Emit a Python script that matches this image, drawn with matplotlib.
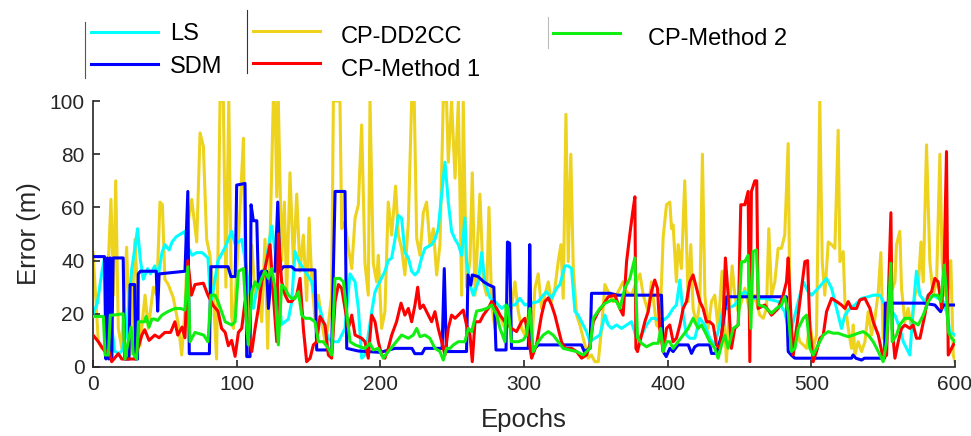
import matplotlib
matplotlib.use("Agg")
import matplotlib.pyplot as plt
from matplotlib.lines import Line2D

plt.rcParams['font.family'] = ['Liberation Sans', 'DejaVu Sans']

# (epoch, error in m)
ls_pts = [(0,20),(3,24),(6,35),(8,41),(10,40),(12,20),(15,6),(18,5),(20,6),(23,12),(25,25),(27,37),(29,44),(31,52),(33,40),
          (35,33),(38,37),(40,35),(43,38),(45,33),(48,43),(50,46),(53,44),(55,47),(58,49),(61,50),(64,51),(66,45),(69,42),
          (72,43),(76,43),(80,41),(82,24),(84,30),(87,40),(90,43),(92,45),(96.5,51),(99,46),(103.5,48),(106,40),(109,28),
          (111.6,22),(115,32),(119.7,37),(124.4,53),(126.7,44),(129,27),(131.3,16),(136,18),(138.3,24.6),(140.6,43.4),
          (143,40),(147.6,36),(152.2,32),(154.5,26),(158,22),(161.5,14.5),(163.8,10.8),(166.1,9.5),(170.8,9.5),(175.4,14.5),
          (178.9,35),(182.4,32),(184.7,22),(187,3.3),(189.3,4.5),(191.6,12),(194,20.8),(196.3,28.3),(198.6,31),(203.2,36),
          (205.5,40),(207.9,41),(210.2,48),(212.5,57),(214.8,56),(217.1,43),(219.5,41),(221.8,36),(224.1,34.6),(226.4,36),
          (228.7,41),(231,44.6),(235.7,46),(238,48),(240.3,52),(242.7,65),(245,77),(247.3,62),(249.6,51),(252,48),
          (254.3,46),(256.6,42),(258.9,56),(260,40),(262.4,31),(264.7,27),(268.2,32),(270.5,43),(272.8,32),(276.3,26),
          (279.8,24.6),(284.4,22),(286.7,23),(290.2,23.3),(293.7,23.3),(297.1,25.8),(300.6,23.3),(305.3,24),(309.9,24.6),
          (313.4,27),(315.7,28.3),(319.2,25.8),(322.7,29.6),(325,31),(328.5,38),(330.8,38),(333.1,37),(335.4,21),
          (337.7,19.5),(341.2,15.8),(343.5,13.3),(345.9,9.5),(349.3,10.8),(352.8,12),(356.3,19.5),(358.6,15.8),(361,14.5),
          (364.4,15.8),(367.9,14.5),(371.4,15.8),(374.9,17),(378.3,10.8),(381.8,12),(385.3,15.8),(388.8,18.3),(391,18.3),
          (395.7,17),(400.3,19),(403.8,22),(406.1,23.3),(408.5,32.7),(410.8,19.5),(413.1,12),(415.4,10.8),(418.9,10.8),
          (422.4,18.3),(425.9,15.8),(429.3,10.8),(432.8,8.3),(435.1,13.3),(438.6,22),(442.1,22),(446.7,23.3),(451.4,27),
          (453.7,28.3),(458.3,25.8),(467.6,25.8),(476.9,24.6),(481.5,20.8),(485,12),(486.2,14.5),(490.9,24.6),(494.4,32),
          (497.8,28.3),(500.2,27),(504.8,29.6),(510.6,33.3),(514.1,29.6),(516.4,24.6),(518.7,19.5),(521,14.5),(523.4,19.5),
          (526.8,22),(530.3,23.3),(535,25.8),(539.6,26.4),(543.1,27),(547.7,27),(550,24.6),(552.4,22),(555.8,20.8),
          (558.2,19.5),(561.6,14.5),(564,9.5),(566.3,7),(568.6,4.5),(570.9,22),(573.2,36),(575.6,27),(579,24.6),(581.4,27),
          (584.8,27),(588.3,25.8),(591.8,24.6),(594.1,20.8),(596.4,13.3),(600,12)]

sdm_pts = [(0,41.5),(8,41.5),(9,3),(10,41),(11,3),(12,41),(13,3),(14,41),(21,41),(22,3),(25,3),(25.8,31),(29,31),(29.5,3),
           (31,3),(31.5,35),(33,36),(44,36),(45,21),(46,35),(55,35.5),(64,36),(66,66),(67,5),(81,5),(82,37.7),(94,37.7),
           (96,34),(99,34),(100,68.4),(105.8,69),(107,3.9),(109.3,3.9),(110,61),(111.6,55),(114,55),(115.1,32),(117.4,36),
           (120.9,36),(122.1,22),(124.4,36),(126.7,36),(128.6,62),(130.2,36),(132.5,37.7),(138.3,37.7),(140.6,36.5),
           (154.5,36.5),(155.7,6.4),(166.1,6.4),(168.5,66),(175.4,66),(176.6,7),(184.7,6),(200,5.5),(210,7),(222,7),
           (224,5),(229,5),(231,7),(243,7),(244.5,37),(246,5.8),(260,5.8),(261,34.6),(263,30.8),(264,34.6),(268,34),
           (272,32),(275,31),(279,30),(280.5,6.4),(287.5,6.4),(288.5,47),(290,46.5),(291.3,7),(303,7),(304,46),(305,5.8),
           (310,8.3),(340,8.3),(342,5.8),(346,7),(347,27.7),(360,27.7),(365,27),(395.7,27),(396.9,5.8),(399,3.9),
           (401.5,7),(403.8,5.8),(407.3,8.3),(414.3,8.3),(416.6,5.1),(418.9,7.6),(421.2,8.3),(429.3,8.3),(430.5,5.1),
           (434,5.1),(437.5,12),(441,26.4),(482.7,26.4),(483.9,5.8),(486,4.5),(488.5,3.3),(528,3.3),(529,4.5),(531,3.3),
           (535,2.6),(537,3.3),(551,3.3),(551.5,24),(578,24),(586,23.3),(588,22),(590,20.8),(592,23.3),(600,23.3)]

dd2cc_pts = [(0,43),(3.7,9.5),(6,7),(8.4,7),(10.7,40),(12.5,63),(14.2,27),(15.8,70),(17.6,14.5),(20,7),(23.4,45),(25.8,4.5),
             (29.2,48),(31.6,21),(32.7,8),(36.2,27),(38.5,14.5),(42,30),(44.3,27),(46.6,62),(48.3,61),(50,33),(52.4,31),
             (55.9,26),(59.4,16),(61.7,4.5),(64,21),(66.4,55),(68.7,63),(72.2,47),(74.5,88),(76.8,83),(79.1,48),(81.4,42),
             (83.8,27),(86,3),(88.4,100),(90.7,100),(92.5,30),(94.5,100),(96.5,19),(97.7,14.5),(101.2,47),(104.7,86),
             (105.8,40),(108.1,14.5),(110.5,46),(112.8,27),(115.1,33),(117.4,17),(119.7,48),(121.6,7),(123.2,47),
             (125.5,100),(126.7,100),(127.9,64),(129,100),(131.3,40),(133.2,62),(134.8,27),(137.1,73),(139.5,39),
             (141.8,65),(144.1,36),(146.4,49.6),(148.7,25),(150.4,56),(152.2,33),(154.5,18.3),(156.9,27),(159.2,17),
             (161.5,9.5),(163.8,16),(166.1,27),(167.3,100),(169.6,100),(171.9,100),(173.1,52),(175.4,54.6),(177.7,45),
             (180.1,37),(182.4,56),(184.7,61),(187,91),(189.3,39),(191.6,27),(192.8,100),(195.1,39),(197.4,32),(198.6,42),
             (200.9,14.5),(203.2,20.8),(205.5,62),(207.9,49.6),(210.6,68),(212.5,49.6),(214.8,44.6),(217.1,34.6),
             (219.5,54.6),(221.8,100),(223.6,100),(225.3,48.4),(227.6,42),(229.9,58),(232.2,62),(234.5,46),(236.9,52),
             (239.2,34.6),(241.5,46),(243.8,100),(246.1,100),(247.3,77),(249.6,100),(252,71),(254.3,100),(256.6,27),
             (257.7,100),(260,30),(262.4,40),(264,73),(265.9,27),(269.3,65),(271.7,32),(274,27),(275.6,60),(277.5,23.3),
             (279.8,14.5),(282.1,20.8),(286.7,14.5),(289,19.5),(291.3,22),(293.7,32),(296,21),(298.3,14.5),(300.6,12),
             (302.9,19.5),(305.3,7),(307.6,29.6),(309.9,35),(312.2,22),(314.5,27),(316.9,32),(319.2,24.6),(321.5,29.6),
             (323.8,39.6),(325.7,46),(327.3,25.8),(329.2,95),(330.8,39.6),(332.6,80),(334.3,37),(336.6,19.5),(338.9,15.8),
             (342.4,8.3),(344.7,3.3),(347,4.5),(349.3,2),(351.7,2),(354,14.5),(356.3,31),(358.6,28.3),(362.1,24.6),
             (365.6,28.3),(369,32),(371.4,28.3),(374.9,27),(378.3,32),(380.7,35),(383,27),(386.4,20.8),(388.7,32),
             (392.2,15.8),(394.5,14.5),(396.9,49),(399.2,61),(401.5,62),(402.7,52),(403.8,53.4),(406.1,32),(407.3,46),
             (409.6,37),(411.9,70),(414.3,24.6),(416.1,46),(417.7,22),(420.1,15.8),(422.4,24.6),(424.2,80),(425.9,27),
             (428.2,14.5),(430.5,24.6),(432.8,27),(435.1,14.5),(437.9,36),(440.9,2),(443.3,24.6),(444.9,38),(446.7,27),
             (449.1,20.8),(451.4,24.6),(453.7,29.6),(457.2,20.8),(460.7,27),(464.1,19.5),(466.5,18.3),(468.8,22),
             (470.4,52),(472.3,27),(474.6,32),(476.9,44.6),(479.2,44.6),(481.5,49.6),(483.9,84),(485.1,20.8),(487.4,4.5),
             (489.7,14.5),(492,9.5),(494.4,8.3),(496.7,7),(499,17),(501.3,7),(503.6,12),(505.9,100),(507.6,39.6),
             (509.4,27),(511.8,47),(514.1,46),(516.4,44.6),(518.7,89),(519.9,39.6),(522.2,43.4),(523.4,24.6),(525.7,14.5),
             (528,7),(529.2,15.8),(530.3,4.5),(532.6,9.5),(535,5.8),(537.3,9.5),(539.6,20.8),(541.9,12),(544.3,18.3),
             (546.6,28.3),(548.4,43),(550,10.8),(552.4,14.5),(554.7,27),(558.2,32),(559.3,46),(561.6,51),(562.8,29.6),
             (565.1,17),(567.4,22),(569.8,14.5),(572.1,27),(574.4,29.6),(576.3,47),(577.9,32),(580.2,83.5),(582.5,39.6),
             (584.8,27),(587.2,32),(589.5,80),(591.1,39.6),(592.9,27),(595.3,29.6),(597.1,40),(598.8,4.5),(600,2)]

m1_pts = [(0,12),(3.7,9.5),(8,6),(11,6),(13,2),(17.6,5),(20,3),(23,3),(29,3),(34,12),(36,14),(39,10),(43,12),(46,11),
          (50,13),(54,13),(57,17),(59,12),(62,15),(64,11),(66,40),(68.5,27),(71,31),(76.8,31.5),(80,27),(83.8,23),(87,21),
          (89.5,14.5),(92,13),(94.2,8),(96.5,10),(98.9,4),(101.2,13),(103.5,14.5),(105.8,24.6),(108.1,12),(110.5,5.8),
          (112.8,14.5),(115.1,22),(117.4,32),(119.7,37),(123.2,46),(125.5,27),(127.9,9.5),(129,50),(131.3,32),
          (133.7,27),(136,24.6),(138.3,24.6),(141.8,27),(144.1,33.3),(146.4,14.5),(148.7,2),(151.1,3.3),(153.4,8.3),
          (155.7,9.5),(158,19),(161.5,15.8),(163.8,4.5),(166.1,3.3),(168.5,24.6),(170.8,31),(173.1,29.6),(175.4,22),
          (177.7,14.5),(180.1,19.5),(182.4,12),(187,10.8),(189.3,9.5),(191.6,3.3),(194,19.5),(196.3,17),(198.6,9.5),
          (200.9,4.5),(203.2,3.3),(205.5,7),(207.9,12),(211.3,17),(214.4,24),(217.1,19.5),(219.5,22),(221.8,17),
          (224.1,23.3),(226,30),(227.6,22),(229.9,23.3),(232.2,20.8),(235.7,17),(238,20.8),(240.3,14.5),(242.7,9.5),
          (245,4.5),(247.3,14.5),(249.6,19.5),(252,18.3),(254.3,19.5),(257.7,21.4),(260,15.8),(262.4,12),(264,2),
          (265.9,17),(269.3,17),(271.7,19.5),(275.1,22),(277.5,24.6),(281,22),(283.3,19.5),(286.7,17),(289,15.8),
          (291.3,14.5),(294.8,13.3),(298.3,17),(300.6,18.3),(302.9,12),(305.3,3.3),(308.7,8.3),(312.2,19.5),(314.5,24.6),
          (316.9,26),(319.2,23.3),(321.5,19.5),(323.8,14.5),(326.1,9.5),(328.5,7),(333.1,7),(336.6,5.8),(340.1,3.3),
          (343.5,4.5),(345.9,8.3),(348.2,17),(351.7,20.8),(355.1,23.3),(358.6,26.4),(363.3,27),(366.7,22),(369,19.5),
          (371.4,39.6),(373.7,50),(375.6,58),(377.2,64),(377.9,7),(379,5.8),(381.8,12),(384.1,17),(386.4,20.8),
          (388.7,28.3),(391,32.7),(392.9,29.6),(394.5,14.5),(396.9,5.8),(399.2,14.5),(401.5,15.8),(403.8,9.5),
          (406.1,10.8),(408.5,15.8),(410.8,22),(413.1,24.6),(415.4,32),(417.7,34.6),(420.1,29.6),(422.4,24.6),(424.7,22),
          (427,17),(429.3,17),(431.7,15.8),(434,8.3),(436.3,7),(438.6,17),(440.2,41),(442.1,27),(444.4,7),(446.7,14.5),
          (449.1,15.8),(450.9,61),(453.7,61),(456,66),(457.2,2),(458.3,66),(460.7,70),(462,70),(463,22),(467.6,23.3),
          (472.3,19.5),(476.9,22),(480.4,27),(482.7,32),(483.9,41),(486.2,14.5),(487.4,4.5),(489.7,14.5),(493.2,29.6),
          (495.5,39.6),(497.4,40),(499,14.5),(501.3,2),(503.6,5.8),(506,10.8),(508.3,12),(510.6,20.8),(514.1,25.8),
          (517.6,24.6),(521,23.3),(523.4,22),(525.7,24.6),(528,22),(531.5,22),(533.8,25.2),(537.3,25.8),(540.8,22),
          (543.1,17),(546.6,12),(550,3.3),(552.4,4.5),(555.4,58),(556.3,14.5),(558.2,3.3),(560.5,9.5),(562.8,14.5),
          (565.1,15.8),(568.6,14.5),(570.9,15.8),(573.2,10.8),(575.6,10.8),(579,19.5),(581.4,27),(583.7,28.3),(586,33.3),
          (588.3,32),(590.7,22),(592.5,39),(594.1,81),(595.3,4.5),(597.6,7),(600,9.5)]

m2_pts = [(0,19),(7.2,19),(8.4,4.5),(10.7,4.5),(12,19.5),(14.2,19.5),(21,20),(22.3,3),(24.6,10),(26.5,15),(28,5),(30.4,3),
          (31.6,17),(36,17),(37,19),(39,15),(41,18),(43,18),(45,17.5),(48,19.5),(52,20.8),(57,22),(61,22),(64,21.4),
          (66,37.7),(67.5,9.5),(71,13),(77,12),(80,9.5),(82,27),(85,27),(87,24.6),(92,17),(96.5,15.8),(98.9,17),
          (101.2,36),(104.7,37),(107,14.5),(108.1,8.3),(110.5,28.3),(112.8,32),(115.1,29.6),(117.4,33.3),(119.7,36),
          (122.1,33.3),(124.4,37),(126.7,29.6),(129,8.3),(131.3,30.8),(133.7,29.6),(136,27),(138.3,25.8),(140.6,25.8),
          (143,28.3),(145.3,19.5),(147.6,18.3),(151.1,18.3),(154.5,17),(156.9,9.5),(160.3,9.5),(163.8,7),(166.1,4.5),
          (168.5,33.3),(171.9,33.3),(174.3,32),(176.6,20.8),(178.9,9.5),(182.4,8.3),(185.9,7.6),(189.3,7),(192.8,8.9),
          (195.1,6.4),(198.6,7),(202.1,3.3),(205.5,5.8),(210.2,8.9),(214.8,12),(219.5,10.8),(222.9,12),(225.3,14.5),
          (227.6,11.4),(231,12),(234.5,10.8),(238,7),(241.5,5.8),(243.8,2.6),(246.1,7),(248.5,7),(250.8,8.3),
          (254.3,9.5),(258.9,9.5),(261.2,14.5),(263.6,13.3),(267,21),(270.5,21.4),(274,22),(277.5,23.3),(281,19.5),
          (283.3,14.5),(286.7,9.5),(287.5,23.3),(289,22),(291.3,9.5),(296,9.5),(299.5,10.2),(301.8,12),(304.1,22),
          (306.4,5.8),(309.9,9.5),(313.4,12),(316.9,13.3),(320.3,12),(323.8,9.5),(327.3,7),(331.9,6.4),(336.6,5.8),
          (341.2,4.5),(345.9,7),(348.2,18.3),(352.8,22),(356.3,23.9),(361,25.2),(364.4,24.6),(366.7,22),(370.2,29.6),
          (373.7,33.3),(377.2,41),(379,11),(381.8,8.9),(385.3,7.6),(389.9,8.9),(393.4,8.9),(395.2,14.5),(396.9,5.8),
          (399.2,9.5),(401.5,9.5),(403.8,7),(407.3,9.5),(410.8,12),(414.3,14.5),(417.7,18.3),(421.2,14.5),(423.5,15.8),
          (425.9,13.3),(429.3,9.5),(432.8,7),(435.1,3.3),(437.5,8.3),(439.8,12),(442.1,7),(445.6,14.5),(449.1,15.8),
          (451.4,39.6),(453.7,39.6),(456,42),(457.9,14.5),(459.5,43.4),(461.8,44),(463.4,23.3),(467.6,22.6),
          (472.3,20.2),(475.7,22),(479.2,23.3),(481.5,26.4),(483.9,20.8),(486.2,5.8),(488.6,7),(490.9,14.5),(494.4,18.3),
          (496.7,19.5),(499,7),(501.3,4.5),(504.8,8.3),(508.3,12),(511.8,13.3),(515.2,12.7),(518.7,12.7),(522.2,12),
          (525.7,11.4),(529.2,12),(532.6,12.7),(536.1,13.3),(539.6,12),(543.1,9.5),(546.6,5.8),(550,2),(552.4,9.5),
          (555.4,39),(556.3,9.5),(559.3,12),(561.6,15.8),(565.1,18.3),(568.6,18.3),(570.9,17),(574.4,15.8),(577.9,19.5),
          (581.4,24.6),(584.8,27),(587.9,27),(590.2,24.6),(592.5,38.3),(594.1,27),(595.3,13.3),(597.6,10.8),(600,9.5)]

series = [
    ('LS', ls_pts, '#00ffff', 2),
    ('SDM', sdm_pts, '#0000ff', 3),
    ('CP-DD2CC', dd2cc_pts, '#edd21e', 1),
    ('CP-Method 1', m1_pts, '#ff0000', 4),
    ('CP-Method 2', m2_pts, '#11ee11', 5),
]
colors = {name: c for name, _, c, _ in series}

fig = plt.figure(figsize=(9.71, 4.36), dpi=100)
ax = fig.add_axes([0.0958, 0.1583, 0.8877, 0.61])

for name, pts, col, z in series:
    x, y = zip(*pts)
    ax.plot(x, y, color=col, lw=2.2, zorder=z)

ax.set_xlim(0, 600)
ax.set_ylim(0, 100)
ax.set_xticks(range(0, 601, 100))
ax.set_yticks(range(0, 101, 20))
for s in ['top', 'right']:
    ax.spines[s].set_visible(False)
for s in ['left', 'bottom']:
    ax.spines[s].set_color('#262626')
    ax.spines[s].set_linewidth(1.2)
ax.tick_params(direction='in', length=5, width=1.2, color='#262626', labelsize=15, labelcolor='#262626', pad=6)
ax.set_xlabel('Epochs', fontsize=18.5, color='#262626', labelpad=10)
ax.set_ylabel('Error (m)', fontsize=18.5, color='#262626', labelpad=6)

# legend in three MATLAB-like columns
def leg_item(x0, x1, y_line, y_text, xt, name):
    fig.add_artist(Line2D([x0, x1], [y_line, y_line], color=colors[name], lw=2.2, transform=fig.transFigure))
    fig.text(xt, y_text, name, fontsize=17, va='baseline', ha='left', color='black')

fig.add_artist(Line2D([0.0875, 0.0875], [0.821, 0.9495], color='#555555', lw=0.8, transform=fig.transFigure))
leg_item(0.0937, 0.1627, 0.9266, 0.9083, 0.175, 'LS')
leg_item(0.0937, 0.1627, 0.8532, 0.8326, 0.175, 'SDM')
fig.add_artist(Line2D([0.2544, 0.2544], [0.8326, 0.977], color='#333333', lw=0.8, transform=fig.transFigure))
leg_item(0.2606, 0.3296, 0.9289, 0.9014, 0.3512, 'CP-DD2CC')
leg_item(0.2606, 0.3296, 0.8555, 0.8257, 0.3512, 'CP-Method 1')
fig.add_artist(Line2D([0.5644, 0.5644], [0.89, 0.961], color='#bbbbbb', lw=0.8, transform=fig.transFigure))
leg_item(0.5695, 0.6385, 0.9243, 0.8968, 0.6674, 'CP-Method 2')

fig.savefig('out.png', dpi=100)
